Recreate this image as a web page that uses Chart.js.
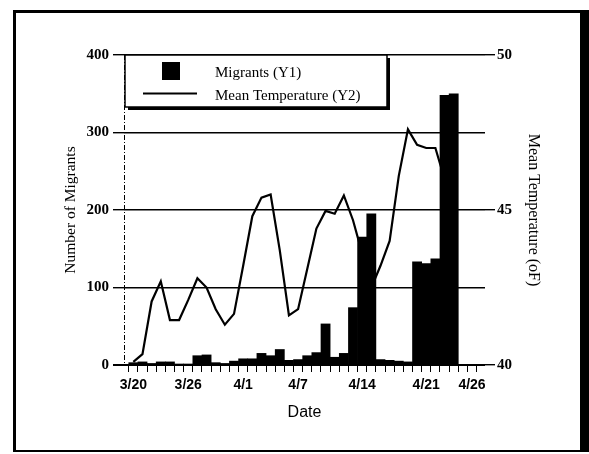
<!DOCTYPE html>
<html>
<head>
<meta charset="utf-8">
<title>Migrants and Mean Temperature</title>
<script src="https://cdn.jsdelivr.net/npm/chart.js@4.4.1/dist/chart.umd.min.js"></script>
<style>
  html, body { margin: 0; padding: 0; background: #fff; }
  #wrap { position: relative; width: 589px; height: 454px; overflow: hidden; background: #fff; }
  #frame {
    position: absolute; left: 13px; top: 10px; width: 576px; height: 442px;
    box-sizing: border-box;
    border-left: 3px solid #000; border-top: 3px solid #000;
    border-bottom: 2px solid #000; border-right: 9px solid #000;
  }
  #chart { position: absolute; left: 0; top: 0; }
</style>
</head>
<body>
<div id="wrap">
  <canvas id="chart" width="589" height="454"></canvas>
  <div id="frame"></div>
</div>
<script>
// jours du 3/20 au 4/26
const dates = [
  '3/20', '3/21', '3/22', '3/23', '3/24', '3/25', '3/26', '3/27', '3/28', '3/29', '3/30', '3/31',
  '4/1', '4/2', '4/3', '4/4', '4/5', '4/6', '4/7', '4/8', '4/9', '4/10', '4/11', '4/12', '4/13',
  '4/14', '4/15', '4/16', '4/17', '4/18', '4/19', '4/20', '4/21', '4/22', '4/23', '4/24', '4/25', '4/26'
];
const shownDates = ['3/20', '3/26', '4/1', '4/7', '4/14', '4/21', '4/26'];

const migrants = [
  3, 4, 2, 4, 4, 1, 1, 12, 13, 3, 2, 5,
  8, 8, 15, 12, 20, 6, 7, 12, 16, 53, 10, 15, 74,
  165, 195, 7, 6, 5, 4, 133, 131, 137, 348, 350, 0, 0
];

const meanTemp = [
  40.1, 40.35, 42.05, 42.7, 41.45, 41.45, 42.1, 42.8, 42.5, 41.8, 41.3, 41.65,
  43.2, 44.8, 45.4, 45.5, 43.7, 41.6, 41.8, 43.1, 44.4, 44.97, 44.88, 45.47, 44.67,
  43.6, 42.5, 43.2, 44.0, 46.1, 47.6, 47.1, 47.0, 47.0, 46.0, 45.8, null, null
];

const migrantTicks = [0, 100, 200, 300, 400];
const tempTicks = [40, 45, 50];

Chart.defaults.font.family = 'Liberation Serif';
Chart.defaults.color = '#000';

// Axe gauche en pointillés (border.dash toucherait aussi la grille)
const dashedAxis = {
  id: 'dashedAxis',
  afterDraw(chart) {
    const ctx = chart.ctx;
    const area = chart.chartArea;
    ctx.save();
    ctx.strokeStyle = '#000';
    ctx.lineWidth = 1;
    ctx.setLineDash([5, 2, 1, 2]);
    ctx.beginPath();
    ctx.moveTo(area.left + 0.5, area.top);
    ctx.lineTo(area.left + 0.5, area.bottom);
    ctx.stroke();
    ctx.restore();
  }
};

// Légende encadrée avec ombre, dessinée dans la zone du graphique
const boxLegend = {
  id: 'boxLegend',
  afterDraw(chart) {
    const ctx = chart.ctx;
    const area = chart.chartArea;
    const x = area.left + 1;
    const y = area.top;
    const w = 262;
    const h = 52;
    const sets = chart.data.datasets;

    ctx.save();
    // ombre
    ctx.fillStyle = '#000';
    ctx.fillRect(x + 3, y + 3, w, h);
    ctx.fillStyle = '#fff';
    ctx.fillRect(x, y, w, h);
    ctx.strokeStyle = '#000';
    ctx.lineWidth = 1.5;
    ctx.strokeRect(x, y, w, h);

    // carré des migrants
    ctx.fillStyle = '#000';
    ctx.fillRect(x + 37, y + 7, 18, 18);

    // trait de température
    ctx.lineWidth = 2;
    ctx.beginPath();
    ctx.moveTo(x + 18, y + 38.5);
    ctx.lineTo(x + 72, y + 38.5);
    ctx.stroke();

    ctx.font = '15px "Liberation Serif"';
    ctx.textAlign = 'left';
    ctx.textBaseline = 'middle';
    ctx.fillText(sets[0].label, x + 90, y + 18);
    ctx.fillText(sets[1].label, x + 90, y + 41);
    ctx.restore();
  }
};

const ctx = document.getElementById('chart').getContext('2d');

new Chart(ctx, {
  data: {
    datasets: [
      {
        type: 'bar',
        label: 'Migrants (Y1)',
        data: migrants.map((v, i) => ({ x: i, y: v })),
        backgroundColor: '#000',
        borderWidth: 0,
        barPercentage: 1,
        categoryPercentage: 1,
        yAxisID: 'y',
        order: 1
      },
      {
        type: 'line',
        label: 'Mean Temperature (Y2)',
        data: meanTemp.map((v, i) => ({ x: i, y: v })),
        borderColor: '#000',
        borderWidth: 2.2,
        pointRadius: 0,
        tension: 0,
        fill: false,
        yAxisID: 'y2',
        order: 2
      }
    ]
  },
  options: {
    responsive: false,
    animation: false,
    layout: { padding: { top: 55, left: 0, right: 0, bottom: 0 } },
    plugins: {
      legend: { display: false },
      tooltip: { enabled: false }
    },
    scales: {
      x: {
        type: 'linear',
        min: -0.5,
        max: 37.9,
        afterBuildTicks(scale) {
          scale.ticks = dates.map((d, i) => ({ value: i }));
        },
        afterFit(scale) {
          scale.height = 89;
        },
        ticks: {
          autoSkip: false,
          maxRotation: 0,
          padding: 5,
          font: { family: 'Liberation Sans', size: 14, weight: 'bold' },
          callback: (v) => shownDates.includes(dates[v]) ? dates[v] : ''
        },
        grid: { drawOnChartArea: false, color: '#000', lineWidth: 1, tickLength: 7 },
        border: { display: false },
        title: {
          display: true,
          text: 'Date',
          font: { family: 'Liberation Sans', size: 16 },
          padding: { top: 0, bottom: 32 }
        }
      },
      y: {
        position: 'left',
        min: 0,
        max: 400,
        afterBuildTicks(scale) {
          scale.ticks = migrantTicks.map(v => ({ value: v }));
        },
        afterFit(scale) {
          scale.width = 124;
        },
        ticks: {
          padding: 4,
          font: { size: 15, weight: 'bold' }
        },
        grid: {
          color: '#000',
          lineWidth: (c) => c.tick && c.tick.value === 0 ? 2 : 1.4,
          tickLength: 11
        },
        border: { display: false },
        title: {
          display: true,
          text: 'Number of Migrants',
          font: { size: 15.5 },
          padding: { top: 62, bottom: 0 }
        }
      },
      y2: {
        position: 'right',
        min: 40,
        max: 50,
        afterBuildTicks(scale) {
          scale.ticks = tempTicks.map(v => ({ value: v }));
        },
        afterFit(scale) {
          scale.width = 104;
        },
        ticks: {
          padding: 2,
          font: { size: 15, weight: 'bold' }
        },
        grid: { drawOnChartArea: false, color: '#000', lineWidth: 1.4, tickLength: 10 },
        border: { display: false },
        title: {
          display: true,
          text: 'Mean Temperature (oF)',
          font: { size: 16 },
          padding: { top: 46, bottom: 0 }
        }
      }
    }
  },
  plugins: [dashedAxis, boxLegend]
});
</script>
</body>
</html>
